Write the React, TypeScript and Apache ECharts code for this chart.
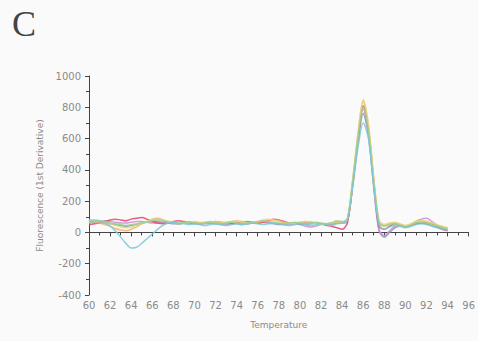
import React, { useEffect, useRef } from "react";
import * as echarts from "echarts";

const temps = [
  60, 60.5, 61, 61.5, 62, 62.5, 63, 63.5, 64, 64.5,
  65, 65.5, 66, 66.5, 67, 67.5, 68, 68.5, 69, 69.5,
  70, 70.5, 71, 71.5, 72, 72.5, 73, 73.5, 74, 74.5,
  75, 75.5, 76, 76.5, 77, 77.5, 78, 78.5, 79, 79.5,
  80, 80.5, 81, 81.5, 82, 82.5, 83, 83.5, 84, 84.5,
  85, 85.5, 86, 86.5, 87, 87.5, 88, 88.5, 89, 89.5,
  90, 90.5, 91, 91.5, 92, 92.5, 93, 93.5, 94,
];

const greyBlue = [
  65, 70, 65, 60, 55, 50, 45, 40, 45, 50,
  60, 70, 75, 70, 65, 60, 55, 55, 60, 60,
  55, 55, 60, 60, 55, 50, 55, 60, 55, 50,
  55, 60, 60, 65, 60, 55, 50, 50, 55, 60,
  55, 50, 55, 60, 55, 50, 50, 60, 60, 70,
  300, 570, 760, 620, 290, 10, -30, 0, 30, 40,
  35, 40, 55, 60, 55, 45, 35, 25, 15,
];
const purple = [
  60, 65, 70, 75, 70, 65, 60, 60, 65, 70,
  70, 65, 60, 60, 65, 70, 65, 55, 60, 65,
  60, 55, 55, 60, 60, 55, 50, 55, 60, 55,
  55, 60, 65, 70, 65, 60, 55, 50, 50, 55,
  50, 40, 35, 40, 50, 55, 60, 65, 65, 75,
  310, 580, 790, 620, 300, 20, -20, 10, 40, 45,
  40, 50, 70, 85, 90, 70, 45, 30, 25,
];
const red = [
  50, 55, 60, 70, 80, 85, 80, 75, 85, 90,
  95, 85, 70, 60, 55, 60, 70, 75, 70, 65,
  60, 55, 60, 65, 70, 65, 60, 55, 60, 65,
  70, 65, 60, 65, 75, 85, 80, 70, 60, 55,
  55, 60, 65, 60, 55, 45, 40, 30, 20, 60,
  300, 590, 810, 660, 330, 40, 20, 40, 55, 50,
  40, 45, 55, 60, 65, 55, 40, 20, 10,
];
const orange = [
  70, 65, 60, 50, 40, 25, 15, 10, 20, 35,
  55, 70, 85, 90, 80, 70, 65, 60, 65, 70,
  65, 60, 65, 70, 65, 60, 65, 70, 75, 70,
  65, 60, 65, 70, 75, 80, 75, 65, 60, 60,
  65, 70, 65, 60, 55, 50, 55, 65, 60, 80,
  330, 620, 840, 680, 340, 70, 45, 55, 60, 50,
  40, 50, 65, 75, 70, 55, 45, 35, 30,
];
const yellow = [
  80, 75, 70, 65, 55, 45, 35, 30, 35, 45,
  60, 70, 80, 85, 80, 70, 65, 60, 60, 65,
  70, 65, 60, 65, 70, 65, 60, 65, 70, 65,
  60, 65, 70, 80, 85, 80, 70, 60, 55, 60,
  65, 70, 65, 55, 50, 55, 60, 70, 65, 85,
  340, 630, 850, 690, 350, 80, 50, 60, 65, 55,
  45, 55, 70, 75, 70, 60, 50, 40, 30,
];
const green = [
  60, 70, 75, 70, 60, 55, 50, 45, 50, 55,
  60, 65, 75, 80, 75, 65, 60, 55, 60, 65,
  60, 55, 60, 65, 60, 55, 60, 65, 60, 55,
  60, 65, 70, 75, 70, 65, 60, 55, 60, 65,
  60, 55, 60, 65, 60, 55, 60, 75, 70, 90,
  320, 600, 800, 640, 320, 60, 40, 50, 55, 45,
  35, 45, 60, 65, 60, 50, 40, 30, 20,
];
const cyan = [
  75, 80, 75, 60, 40, 10, -30, -70, -100, -95,
  -70, -40, -10, 20, 45, 60, 65, 60, 55, 50,
  55, 50, 45, 50, 55, 50, 45, 50, 55, 50,
  55, 60, 55, 50, 55, 60, 55, 50, 45, 50,
  55, 50, 45, 50, 55, 50, 45, 55, 60, 80,
  290, 540, 700, 600, 300, 50, 20, 35, 45, 40,
  30, 40, 50, 55, 50, 40, 30, 20, 15,
];

const seriesList = [
  { name: "S1", data: greyBlue, color: "#8a95b5" },
  { name: "S2", data: purple, color: "#c98fd4" },
  { name: "S3", data: red, color: "#e6436a" },
  { name: "S4", data: orange, color: "#f2ae66" },
  { name: "S5", data: yellow, color: "#e2d77a" },
  { name: "S6", data: green, color: "#94d294" },
  { name: "S7", data: cyan, color: "#78cad8" },
];

export default function App() {
  const ref = useRef<HTMLDivElement>(null);
  useEffect(() => {
    if (!ref.current) return;
    const chart = echarts.init(ref.current, undefined, { renderer: "svg" });
    const axisText = { color: "#8a8a8a", fontSize: 10, fontFamily: "DejaVu Sans" };
    chart.setOption({
      animation: false,
      backgroundColor: "#fafafa",
      graphic: [
        {
          type: "text",
          left: 12,
          top: 6,
          style: {
            text: "C",
            font: "36px 'Liberation Serif'",
            fill: "#444",
          },
        },
      ],
      grid: { left: 89, right: 4, top: 76, bottom: 46 },
      xAxis: {
        type: "value",
        min: 60,
        max: 96,
        interval: 2,
        name: "Temperature",
        nameLocation: "middle",
        nameGap: 25,
        nameTextStyle: { ...axisText, fontSize: 9 },
        axisLine: { show: true, lineStyle: { color: "#444", width: 1 } },
        axisTick: { show: true, length: 4, lineStyle: { color: "#444" } },
        minorTick: { show: true, splitNumber: 2, length: 3, lineStyle: { color: "#444" } },
        axisLabel: { ...axisText, margin: 5 },
        splitLine: { show: false },
      },
      yAxis: {
        type: "value",
        min: -400,
        max: 1000,
        interval: 200,
        name: "Fluorescence (1st Derivative)",
        nameLocation: "middle",
        nameGap: 35,
        nameTextStyle: { ...axisText, fontSize: 9 },
        axisLine: { show: true, lineStyle: { color: "#444", width: 1 } },
        axisTick: { show: true, length: 4, lineStyle: { color: "#444" } },
        minorTick: { show: true, splitNumber: 2, length: 3, lineStyle: { color: "#444" } },
        axisLabel: { ...axisText, margin: 8, formatter: (v: number) => String(v) },
        splitLine: { show: false },
      },
      series: seriesList.map((s) => ({
        name: s.name,
        type: "line",
        showSymbol: false,
        smooth: 0.3,
        data: temps.map((t, i) => [t, s.data[i]]),
        lineStyle: { color: s.color, width: 1.5, opacity: 0.85 },
        itemStyle: { color: s.color },
      })),
    });
    return () => chart.dispose();
  }, []);
  return (
    <div
      ref={ref}
      style={{ position: "fixed", left: 0, top: 0, width: 478, height: 341 }}
    />
  );
}
